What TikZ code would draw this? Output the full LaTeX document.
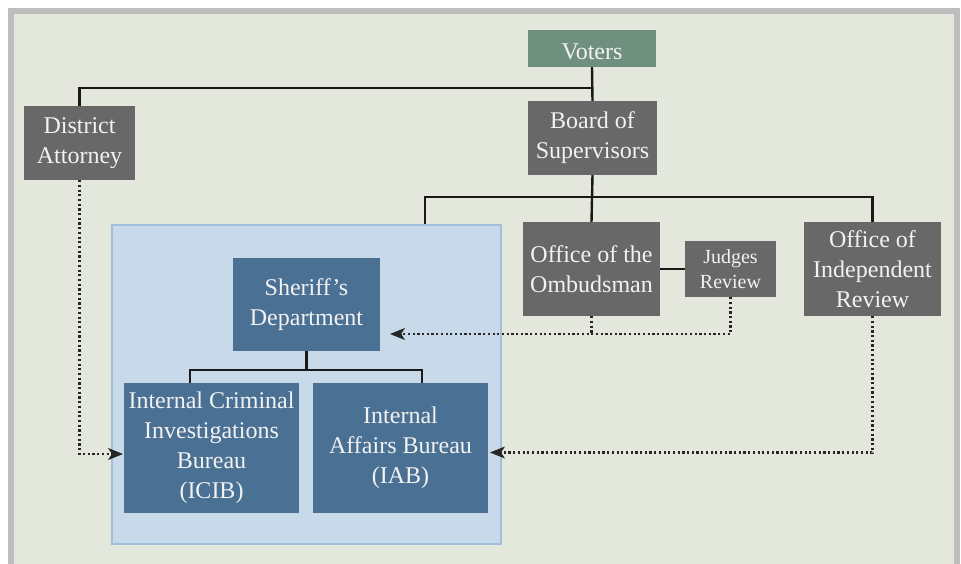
\documentclass[tikz,border=0pt]{standalone}
\usepackage{fontspec}
\setmainfont{Liberation Serif}
\usetikzlibrary{arrows.meta}
\definecolor{panel}{HTML}{E4E8DC}
\definecolor{framegray}{HTML}{BEBEBE}
\definecolor{boxgray}{HTML}{686868}
\definecolor{votergreen}{HTML}{6F8F7F}
\definecolor{boxblue}{HTML}{4A7194}
\definecolor{contfill}{HTML}{C8DAE9}
\definecolor{contline}{HTML}{A0BFDA}
\definecolor{txt}{HTML}{F2F2F2}
\tikzset{
  orgbox/.style={rectangle, inner sep=0pt, text=txt, align=center,
    font=\fontsize{24}{30}\selectfont,
    execute at begin node={\rule{0pt}{22pt}}},
  graybox/.style={orgbox, fill=boxgray},
  bluebox/.style={orgbox, fill=boxblue},
  link/.style={line width=2.4pt, black!90},
  dotlink/.style={line width=2.4pt, black!85, dash pattern=on 2.2pt off 2.5pt},
  tiplink/.style={line width=1pt, black!85, -{Stealth[length=15pt,width=12pt,inset=4pt]}}
}
\begin{document}
\begin{tikzpicture}[x=1pt,y=-1pt]
\useasboundingbox (0,0) rectangle (961,564);
\fill[white] (0,0) rectangle (961,564);
\fill[framegray] (8,8) rectangle (960,564);
\fill[panel] (14,14) rectangle (954,564);

% container
\node[rectangle, fill=contfill, draw=contline, line width=2pt,
  minimum width=389pt, minimum height=319pt] (cont) at (306.5,384.5) {};

% nodes
\node[orgbox, fill=votergreen, minimum width=128pt, minimum height=37pt] (voters) at (592,48.5) {Voters};
\node[graybox, minimum width=129pt, minimum height=74pt] (board) at (592.5,138) {Board of\\Supervisors};
\node[graybox, minimum width=111pt, minimum height=74pt] (da) at (79.5,143) {District\\Attorney};
\node[graybox, minimum width=137pt, minimum height=94pt] (omb) at (591.5,269) {Office of the\\Ombudsman};
\node[graybox, minimum width=91pt, minimum height=56pt, font=\fontsize{20}{25}\selectfont] (judges) at (730.5,269) {Judges\\Review};
\node[graybox, minimum width=137pt, minimum height=94pt] (oir) at (872.5,269) {Office of\\Independent\\Review};
\node[bluebox, minimum width=147pt, minimum height=93pt] (sheriff) at (306.5,304.5) {Sheriff’s\\Department};
\node[bluebox, minimum width=175pt, minimum height=130pt] (icib) at (211.5,448) {Internal Criminal\\Investigations\\Bureau\\(ICIB)};
\node[bluebox, minimum width=175pt, minimum height=130pt] (iab) at (400.5,448) {Internal\\Affairs Bureau\\(IAB)};

% coordinates
\coordinate (top) at (592,88);
\coordinate (cl) at (425,197);
\coordinate (sj) at (306.5,370);
\coordinate (sl) at (190,370);
\coordinate (sr) at (422,370);
\coordinate (arrS) at (390,334);
\coordinate (arrI) at (123,454);
\coordinate (arrA) at (490,452.5);

% solid links
\draw[link] (voters.south) -- (board.north);
\draw[link] (da.north) |- (top);
\draw[link] (board.south) -- (omb.north);
\draw[link] (cl |- cont.north) -- (cl) -| (oir.north);
\draw[link] (omb.east) -- (judges.west);
\draw[link] (sheriff.south) -- (sj);
\draw[link] (sl |- icib.north) -- (sl) -- (sr) -- (sr |- iab.north);

% dotted links
\draw[dotlink] (da.south) |- ([xshift=-10pt]arrI);
\draw[tiplink] ([xshift=-12pt]arrI) -- (arrI);
\draw[dotlink] (omb.south) -- (omb.south |- arrS);
\draw[dotlink] (judges.south) |- ([xshift=10pt]arrS);
\draw[tiplink] ([xshift=12pt]arrS) -- (arrS);
\draw[dotlink] (oir.south) |- ([xshift=10pt]arrA);
\draw[tiplink] ([xshift=12pt]arrA) -- (arrA);
\end{tikzpicture}
\end{document}
